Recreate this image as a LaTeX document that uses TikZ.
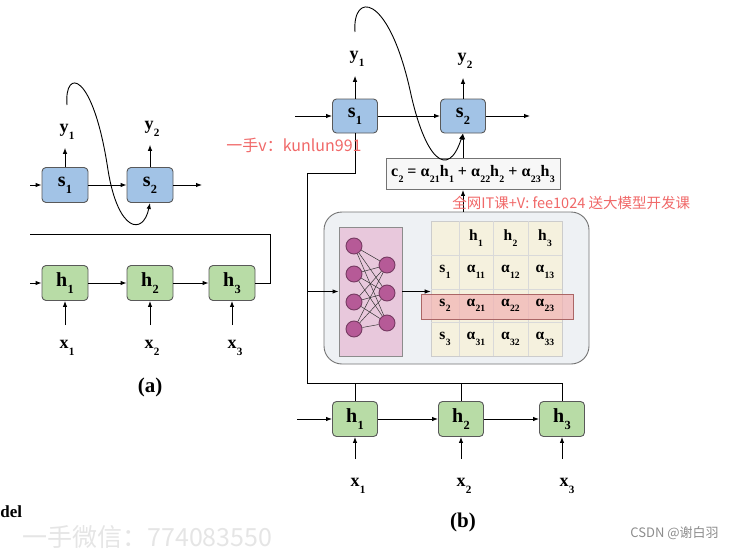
\documentclass[tikz,border=0pt]{standalone}
\usepackage{fontspec}
\usepackage{graphicx}
\setmainfont{Liberation Serif}
\newfontfamily\cjk{Noto Sans CJK SC}
\usetikzlibrary{arrows.meta}

\definecolor{sblue}{HTML}{A2C3E6}
\definecolor{hgreen}{HTML}{B8DCA6}
\definecolor{panelgray}{HTML}{EEF1F4}
\definecolor{nnpink}{HTML}{E8C8DC}
\definecolor{neuron}{HTML}{B65A97}
\definecolor{cellcream}{HTML}{F5F1DE}
\definecolor{rowred}{HTML}{F2B2B2}
\definecolor{wmred}{HTML}{F06868}

\newcommand\ix[2]{#1\kern0.02em\raisebox{-0.36em}{\scalebox{0.62}{#2}}}

\tikzset{
	sbox/.style={draw=black!65, fill=sblue, rounded corners=4pt, minimum width=46pt,
		minimum height=35pt, inner sep=0pt, font=\fontsize{20}{22}\selectfont\bfseries},
	hbox/.style={sbox, fill=hgreen},
	io/.style={inner sep=2pt, font=\fontsize{18}{20}\selectfont\bfseries},
	cell/.style={inner sep=1pt, font=\fontsize{15.5}{17}\selectfont\bfseries},
	neur/.style={circle, draw=neuron!65!black, fill=neuron, minimum size=16pt, inner sep=0pt},
	gridline/.style={draw=black!15, line width=0.6pt},
	wmark/.style={text=wmred, inner sep=0pt, anchor=west}
}

\begin{document}
\begin{tikzpicture}[x=1pt, y=-1pt, line width=0.9pt, >={Latex[length=6pt,width=4.5pt]}]
\useasboundingbox (0,0) rectangle (744,551);
\clip (0,0) rectangle (744,551);

% (a)
\foreach \i/\x in {1/65, 2/150}
	\node[sbox] (as\i) at (\x,185) {\ix{s}{\i}};
\foreach \i/\x in {1/65, 2/150, 3/232}
	\node[hbox] (ah\i) at (\x,283) {\ix{h}{\i}};
\foreach \i/\x in {1/67, 2/152, 3/235}
{
	\node[io] (ax\i) at (\x,348) {\ix{x}{\i}};
	\draw[->, shorten <=13pt] (ah\i |- ax\i.north) -- (ah\i);
};
\node[io] (ay1) at (67,132) {\ix{y}{1}};
\node[io] (ay2) at (152,129) {\ix{y}{2}};
\foreach \i in {1,2}
	\draw[->, shorten >=6pt] (as\i) -- (as\i |- ay\i.south);

\coordinate (ain) at (30,185);
\coordinate (aout) at (202,185);
\coordinate (hin) at (30,283);
\coordinate (acorner) at (270,234);
\coordinate (aend) at (30,234);
\coordinate (acurve) at (67,105);
\draw[->] (ain) -- (as1);
\draw[->] (as1) -- (as2);
\draw[->] (as2) -- (aout);
\draw[->] (hin) -- (ah1);
\draw[->] (ah1) -- (ah2);
\draw[->] (ah2) -- (ah3);
\draw (ah3.east) -| (acorner) -- (aend);
\draw[->] (acurve) .. controls (64,68) and (93,70) .. (108,170)
	.. controls (118,232) and (143,236) .. (as2.south);
\node[io, font=\fontsize{21}{22}\selectfont\bfseries] (alabel) at (150,387) {(a)};

% (b)
\node[draw=black!55, fill=panelgray, rounded corners=18pt, minimum width=265pt,
	minimum height=152pt] (panel) at (456.5,288) {};
\node[draw=black!45, fill=nnpink, minimum width=63pt, minimum height=129pt] (nn) at (370.5,291.5) {};
\node[draw=black!20, fill=cellcream, minimum width=131pt, minimum height=135pt, line width=0.6pt] (tab) at (496.5,288.5) {};
\foreach \x in {459, 493, 528}
	\draw[gridline] (\x,221) -- (\x,356);
\foreach \y in {255, 289, 322}
	\draw[gridline] (431,\y) -- (562,\y);
\node[draw=red!45!black!60, fill=rowred, fill opacity=0.7, line width=0.6pt,
	minimum width=152pt, minimum height=25pt] (hl) at (497,306.5) {};

\foreach \j/\x in {1/476, 2/510.5, 3/545}
	\node[cell] (th\j) at (\x,238) {\ix{h}{\j}};
\foreach \i/\y in {1/272, 2/305.5, 3/339}
{
	\node[cell] (ts\i) at (445,\y) {\ix{s}{\i}};
	\foreach \j/\x in {1/476, 2/510.5, 3/545}
		\node[cell] (ta\i\j) at (\x,\y) {\ix{α}{\i\j}};
};

\foreach \i/\y in {1/246, 2/274, 3/302, 4/329}
	\node[neur] (n\i) at (354,\y) {};
\foreach \j/\y in {1/265, 2/293, 3/323}
	\node[neur] (m\j) at (387,\y) {};
\foreach \i in {1,...,4}
	\foreach \j in {1,2,3}
		\draw[line width=0.5pt, black!80] (n\i) -- (m\j);

\foreach \i/\x in {1/355, 2/463}
	\node[sbox, minimum width=45pt, minimum height=34pt] (bs\i) at (\x,116) {\ix{s}{\i}};
\foreach \i/\x in {1/355, 2/461, 3/562}
	\node[hbox, minimum width=45pt, minimum height=35pt] (bh\i) at (\x,419) {\ix{h}{\i}};
\foreach \i/\x in {1/358, 2/464, 3/567}
{
	\node[io] (bx\i) at (\x,486) {\ix{x}{\i}};
	\draw[->, shorten <=17pt] (bh\i |- bx\i.north) -- (bh\i);
};
\node[io] (by1) at (357,59) {\ix{y}{1}};
\node[io] (by2) at (465,61) {\ix{y}{2}};
\foreach \i in {1,2}
	\draw[->, shorten >=7pt] (bs\i) -- (bs\i |- by\i.south);

\node[draw=black!55, fill=white!97!black, minimum width=174pt, minimum height=31pt, inner sep=0pt,
	font=\fontsize{16}{18}\selectfont\bfseries] (c2) at (473,174)
	{\ix{c}{2} = \ix{α}{21}\ix{h}{1} + \ix{α}{22}\ix{h}{2} + \ix{α}{23}\ix{h}{3}};

\coordinate (bin) at (295,116);
\coordinate (bout) at (530,116);
\coordinate (hbin) at (297,419);
\coordinate (bturn) at (307,173);
\coordinate (bbus) at (307,383);
\coordinate (bcurve) at (355,32);
\draw[->] (bin) -- (bs1);
\draw[->] (bs1) -- (bs2);
\draw[->] (bs2) -- (bout);
\draw[->] (hbin) -- (bh1);
\draw[->] (bh1) -- (bh2);
\draw[->] (bh2) -- (bh3);
\draw (bs1) |- (bturn) -- (bbus) -| (bh3);
\foreach \i in {1,2}
	\draw (bh\i) -- (bh\i |- bbus);
\draw[->] (bturn |- nn) -- (nn);
\draw[->] (nn) -- (nn -| tab.west);
\draw[->] (bs2 |- panel.north) -- (bs2 |- c2.south);
\draw[->] (bs2 |- c2.north) -- (bs2);
\draw[->] (bcurve) .. controls (352,-8) and (388,-8) .. (410,90)
	.. controls (425,160) and (448,180) .. (bs2.south);
\node[io, font=\fontsize{21}{22}\selectfont\bfseries] (blabel) at (463,522) {(b)};

\node[inner sep=0pt, anchor=west, font=\fontsize{17}{18}\selectfont\bfseries] (cut) at (0,512) {del};
\node[wmark, font=\cjk\fontsize{16}{17}\selectfont] (wm1) at (226,145) {一手v：kunlun991};
\node[wmark, font=\cjk\fontsize{14.5}{16}\selectfont] (wm2) at (452,203) {全网IT课+V: fee1024 送大模型开发课};
\node[wmark, text=black!10, font=\cjk\fontsize{25}{26}\selectfont] (wm3) at (22,537) {一手微信：774083550};
\node[wmark, text=black!45, font=\cjk\fontsize{13}{14}\selectfont] (wm4) at (630,533) {CSDN @谢白羽};
\end{tikzpicture}
\end{document}
